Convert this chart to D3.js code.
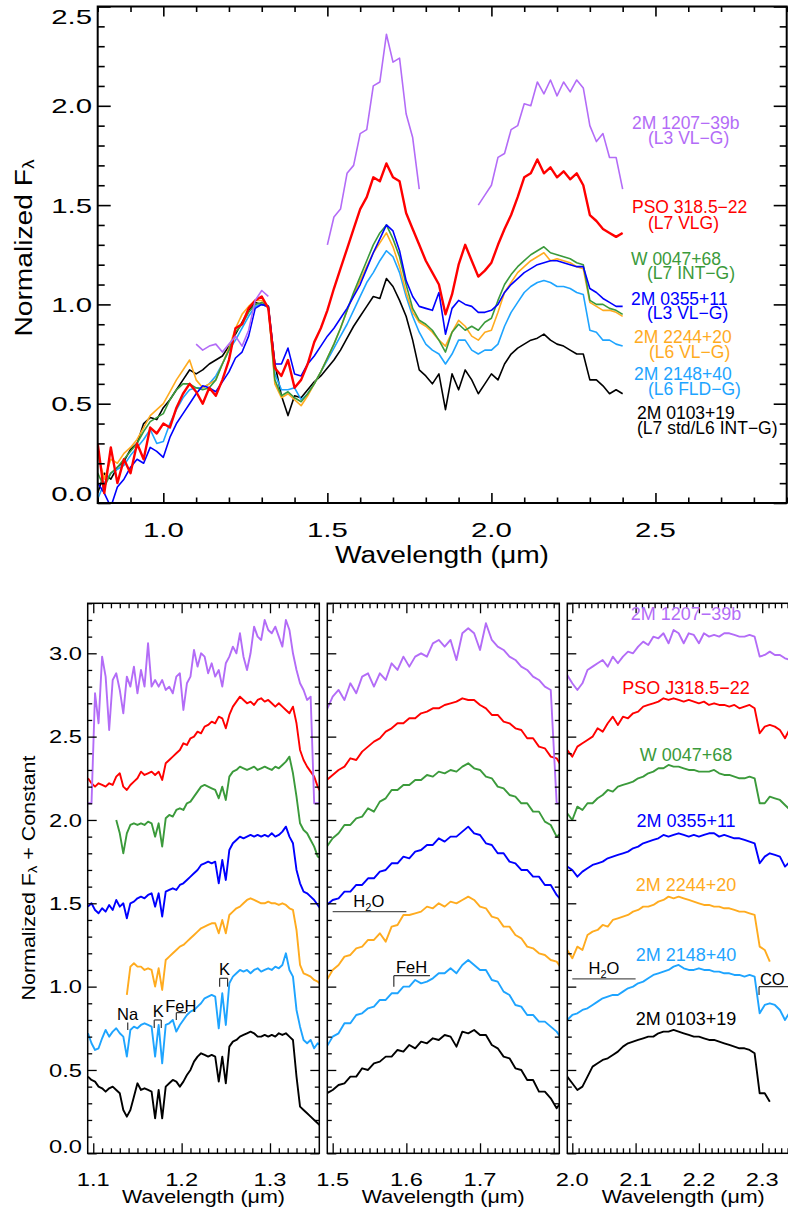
<!DOCTYPE html>
<html>
<head>
<meta charset="utf-8">
<script src="https://cdn.jsdelivr.net/npm/d3@7"></script>
<style>
  body { margin: 0; background: #fff; }
  svg text { font-family: "Liberation Sans", Arial, Helvetica, sans-serif; }
</style>
</head>
<body>
<svg id="fig" width="788" height="1212"></svg>
<script>
// ---------- data ----------
// top panel: full spectra, grid 0.80 .. 2.40 um, step 0.02
const topStart = 0.80, topStep = 0.02;
const topBlack = [
  0.05,0.15,0.12,0.18,0.21, 0.27,0.30,0.40,0.43,0.42,
  0.48,0.52,0.57,0.62,0.67, 0.65,0.67,0.70,0.72,0.74,
  0.79,0.85,0.91,0.97,1.01, 1.00,0.99,0.70,0.54,0.44,
  0.54,0.53,0.57,0.61,0.64, 0.68,0.72,0.77,0.83,0.89,
  0.94,0.99,1.04,1.03,1.13, 1.09,1.02,0.94,0.82,0.67,
  0.64,0.60,0.65,0.47,0.65, 0.57,0.67,0.62,0.55,0.60,
  0.65,0.62,0.70,0.75,0.78, 0.80,0.82,0.83,0.85,0.82,
  0.80,0.79,0.77,0.75,0.75, 0.62,0.62,0.59,0.55,0.57,
  0.55];
const topLblue = [
  0.02,0.10,0.15,0.17,0.19, 0.24,0.28,0.32,0.37,0.30,
  0.31,0.40,0.47,0.53,0.57, 0.58,0.58,0.60,0.64,0.70,
  0.77,0.82,0.88,0.94,0.99, 1.00,0.99,0.65,0.57,0.57,
  0.58,0.52,0.55,0.60,0.66, 0.72,0.78,0.84,0.90,0.97,
  1.04,1.11,1.16,1.22,1.27, 1.24,1.16,1.04,0.94,0.86,
  0.80,0.77,0.75,0.70,0.75, 0.82,0.82,0.77,0.75,0.77,
  0.77,0.80,0.89,0.96,1.01, 1.06,1.09,1.11,1.12,1.11,
  1.09,1.09,1.08,1.06,1.05, 0.87,0.86,0.82,0.82,0.80,
  0.79];
const topOrange = [
  0.25,0.12,0.22,0.20,0.25, 0.28,0.32,0.38,0.44,0.47,
  0.50,0.56,0.62,0.67,0.72, 0.62,0.58,0.60,0.62,0.70,
  0.78,0.88,0.95,0.99,1.02, 1.02,0.99,0.60,0.53,0.55,
  0.52,0.49,0.54,0.60,0.66, 0.73,0.80,0.88,0.97,1.05,
  1.12,1.19,1.26,1.31,1.36, 1.29,1.19,1.06,0.96,0.91,
  0.89,0.86,0.82,0.79,0.86, 0.92,0.89,0.84,0.82,0.86,
  0.87,0.96,1.06,1.11,1.16, 1.19,1.22,1.24,1.26,1.22,
  1.23,1.22,1.21,1.19,1.18, 1.01,0.99,0.97,0.97,0.96,
  0.94];
const topGreen = [
  0.15,0.08,0.15,0.18,0.22, 0.26,0.30,0.36,0.41,0.43,
  0.45,0.52,0.57,0.60,0.60, 0.58,0.57,0.58,0.62,0.70,
  0.77,0.86,0.90,0.96,1.00, 1.01,0.99,0.62,0.54,0.56,
  0.53,0.51,0.55,0.60,0.66, 0.73,0.80,0.88,0.97,1.06,
  1.14,1.22,1.30,1.36,1.40, 1.33,1.24,1.10,0.98,0.92,
  0.90,0.87,0.82,0.76,0.86, 0.90,0.87,0.89,0.87,0.91,
  0.93,1.02,1.10,1.15,1.19, 1.22,1.25,1.27,1.29,1.26,
  1.25,1.24,1.23,1.21,1.20, 1.02,1.00,1.00,0.98,0.97,
  0.95];
const topBlue = [
  0.10,0.05,-0.02,0.08,0.12, 0.18,0.22,0.20,0.28,0.26,
  0.23,0.33,0.40,0.45,0.50, 0.55,0.59,0.58,0.56,0.61,
  0.66,0.73,0.76,0.84,0.98, 1.00,0.99,0.70,0.70,0.78,
  0.65,0.64,0.70,0.74,0.79, 0.84,0.88,0.93,0.98,1.04,
  1.10,1.18,1.26,1.33,1.40, 1.37,1.27,1.12,1.04,0.99,
  0.98,0.97,1.06,0.85,0.98, 1.02,1.00,0.99,0.96,0.96,
  0.97,1.00,1.06,1.10,1.13, 1.16,1.18,1.20,1.21,1.22,
  1.22,1.21,1.20,1.19,1.19, 1.08,1.06,1.03,1.01,0.99,
  0.99];
const topRed = [
  0.30,0.05,0.28,0.10,0.22, 0.15,0.30,0.22,0.38,0.35,
  0.40,0.38,0.48,0.55,0.60, 0.56,0.50,0.58,0.54,0.62,
  0.72,0.88,0.90,0.98,1.02, 1.04,0.98,0.68,0.64,0.72,
  0.58,0.62,0.70,0.81,0.88, 0.97,1.08,1.18,1.28,1.38,
  1.48,1.54,1.64,1.62,1.71, 1.64,1.62,1.46,1.38,1.30,
  1.22,1.16,1.10,0.95,1.05, 1.20,1.30,1.22,1.14,1.17,
  1.21,1.30,1.38,1.45,1.54, 1.64,1.66,1.73,1.66,1.69,
  1.64,1.67,1.63,1.66,1.60, 1.45,1.42,1.38,1.36,1.34,
  1.36];
const topPurple = [
  null,null,null,null,null, null,null,null,null,null,
  null,null,null,null,null, 0.80,0.77,0.79,0.80,0.76,
  0.80,0.84,0.79,0.87,1.02, 1.07,1.04,null,null,null,
  null,null,null,null,null, 1.30,1.44,1.48,1.66,1.70,
  1.86,1.88,2.10,2.12,2.36, 2.22,2.24,1.96,1.84,1.58,
  null,null,null,null,null, null,null,null,1.50,1.55,
  1.60,1.74,1.76,1.88,1.90, 2.01,2.00,2.12,2.06,2.13,
  2.05,2.12,2.07,2.13,2.09, 1.90,1.82,1.86,1.74,1.74,
  1.58];

// bottom panels: normalized + constant
// J band grid 1.094 .. 1.358, step 0.004
const jStart = 1.094, jStep = 0.004;
const jPurple = [
  2.10,2.10,2.76,2.58,2.98,2.86,2.54,2.84,2.88,2.78,
  2.64,2.86,2.80,2.92,2.76,2.90,2.80,3.06,2.80,2.84,
  2.80,2.84,2.78,2.80,2.76,2.86,2.88,2.66,2.82,2.86,
  3.02,2.92,3.00,2.98,2.88,2.94,2.86,2.90,2.80,2.94,
  2.98,3.04,3.00,3.12,2.98,2.90,3.00,3.16,3.10,3.08,
  3.20,3.14,3.12,3.16,3.10,3.04,3.20,3.14,3.00,2.90,
  2.82,2.78,2.72,2.74,2.10,2.10,2.10];
const jRed = [
  2.25,2.22,2.20,2.22,2.21,2.20,2.22,2.21,2.26,2.28,
  2.20,2.18,2.21,2.23,2.25,2.29,2.27,2.28,2.29,2.27,
  2.29,2.24,2.34,2.36,2.38,2.40,2.42,2.46,2.45,2.49,
  2.50,2.53,2.52,2.56,2.57,2.59,2.58,2.62,2.61,2.55,
  2.63,2.68,2.71,2.74,2.72,2.70,2.71,2.69,2.72,2.73,
  2.71,2.72,2.70,2.68,2.70,2.68,2.66,2.64,2.68,2.58,
  2.42,2.36,2.32,2.29,2.26,2.20,2.16];
const jGreen = [
  null,null,null,null,null,null,null,null,2.00,1.92,
  1.80,1.92,1.97,1.98,1.97,1.98,1.97,1.99,1.98,1.90,
  1.98,1.84,2.01,2.03,2.02,2.06,2.07,2.06,2.10,2.11,
  2.14,2.17,2.20,2.21,2.20,2.19,2.18,2.13,2.20,2.12,
  2.26,2.29,2.30,2.32,2.31,2.30,2.31,2.32,2.30,2.31,
  2.32,2.31,2.30,2.32,2.31,2.33,2.35,2.38,2.28,2.14,
  1.98,1.94,1.92,1.88,1.84,1.78,1.77];
const jBlue = [
  1.48,1.50,1.46,1.44,1.47,1.45,1.49,1.46,1.52,1.48,
  1.50,1.41,1.50,1.51,1.53,1.54,1.53,1.55,1.56,1.48,
  1.56,1.42,1.57,1.58,1.59,1.58,1.61,1.62,1.64,1.66,
  1.68,1.70,1.73,1.74,1.75,1.74,1.75,1.62,1.76,1.64,
  1.82,1.86,1.88,1.90,1.89,1.90,1.91,1.90,1.91,1.90,
  1.91,1.90,1.92,1.90,1.91,1.93,1.96,1.90,1.86,1.70,
  1.62,1.57,1.56,1.54,1.52,1.49,1.46];
const jOrange = [
  null,null,null,null,null,null,null,null,null,null,
  null,0.95,1.12,1.14,1.12,1.12,1.10,1.11,1.10,1.00,
  1.11,0.98,1.16,1.18,1.20,1.22,1.24,1.25,1.27,1.29,
  1.31,1.33,1.35,1.36,1.37,1.38,1.38,1.32,1.40,1.32,
  1.43,1.45,1.47,1.48,1.50,1.52,1.53,1.52,1.51,1.50,
  1.50,1.51,1.50,1.50,1.49,1.50,1.49,1.47,1.46,1.34,
  1.13,1.08,1.07,1.06,1.04,1.03,1.01];
const jLblue = [
  0.72,0.66,0.62,0.63,0.69,0.74,0.70,0.73,0.75,0.72,
  0.70,0.58,0.74,0.76,0.75,0.77,0.78,0.77,0.76,0.58,
  0.77,0.54,0.77,0.78,0.80,0.73,0.77,0.80,0.83,0.85,
  0.86,0.88,0.90,0.93,0.94,0.95,0.94,0.75,0.96,0.77,
  1.02,1.06,1.08,1.10,1.09,1.10,1.08,1.10,1.11,1.09,
  1.10,1.11,1.10,1.12,1.11,1.13,1.20,1.10,1.06,0.86,
  0.76,0.68,0.66,0.68,0.63,0.66,0.65];
const jBlack = [
  0.46,0.44,0.43,0.40,0.39,0.37,0.39,0.40,0.38,0.36,
  0.26,0.22,0.26,0.34,0.42,0.38,0.39,0.38,0.37,0.21,
  0.38,0.21,0.40,0.42,0.44,0.43,0.40,0.43,0.47,0.50,
  0.55,0.58,0.60,0.59,0.58,0.59,0.58,0.43,0.58,0.42,
  0.64,0.67,0.68,0.70,0.71,0.72,0.73,0.72,0.70,0.70,
  0.71,0.70,0.71,0.70,0.72,0.71,0.72,0.70,0.68,0.46,
  0.28,0.26,0.24,0.22,0.20,0.18,0.16];

// H band grid 1.492 .. 1.812, step 0.008
const hStart = 1.492, hStep = 0.008;
const hPurple = [
  2.66,2.74,2.78,2.72,2.82,2.76,2.86,2.88,2.80,2.88,
  2.84,2.94,2.90,2.98,2.92,2.98,3.00,2.98,3.06,3.08,
  3.04,3.08,2.96,3.12,3.15,3.12,3.02,3.18,3.08,3.04,
  3.02,2.98,2.96,2.92,2.90,2.86,2.84,2.80,2.78,2.10,
  2.10];
const hRed = [
  2.24,2.27,2.30,2.32,2.37,2.36,2.41,2.44,2.47,2.49,
  2.53,2.55,2.58,2.58,2.61,2.61,2.64,2.65,2.67,2.67,
  2.69,2.70,2.71,2.73,2.72,2.72,2.69,2.67,2.63,2.63,
  2.59,2.58,2.55,2.54,2.49,2.49,2.44,2.43,2.38,2.37,
  2.31];
const hGreen = [
  1.84,1.89,1.92,1.97,1.97,2.01,2.02,2.07,2.05,2.11,
  2.13,2.18,2.18,2.21,2.21,2.24,2.24,2.27,2.26,2.29,
  2.28,2.30,2.29,2.32,2.34,2.31,2.30,2.26,2.25,2.20,
  2.19,2.15,2.14,2.10,2.10,2.05,2.05,1.99,1.97,1.90,
  1.93];
const hBlue = [
  1.49,1.52,1.53,1.57,1.57,1.61,1.61,1.65,1.65,1.69,
  1.70,1.74,1.74,1.78,1.77,1.81,1.82,1.85,1.85,1.89,
  1.87,1.90,1.90,1.93,1.96,1.92,1.91,1.86,1.85,1.80,
  1.80,1.75,1.74,1.70,1.70,1.66,1.66,1.61,1.61,1.55,
  1.51];
const hOrange = [
  1.04,1.10,1.13,1.18,1.19,1.23,1.24,1.28,1.28,1.32,
  1.27,1.36,1.37,1.43,1.43,1.44,1.45,1.48,1.47,1.50,
  1.48,1.51,1.50,1.52,1.54,1.52,1.48,1.47,1.42,1.41,
  1.36,1.36,1.31,1.29,1.24,1.23,1.20,1.19,1.16,1.15,
  1.10];
const hLblue = [
  0.64,0.70,0.72,0.78,0.78,0.83,0.84,0.87,0.88,0.92,
  0.92,0.96,0.96,1.00,1.00,1.04,1.02,1.03,1.05,1.08,
  1.08,1.11,1.08,1.13,1.16,1.13,1.10,1.10,1.04,1.03,
  0.97,0.95,0.89,0.88,0.83,0.83,0.79,0.79,0.76,0.73,
  0.68];
const hBlack = [
  0.36,0.38,0.41,0.42,0.46,0.46,0.51,0.50,0.54,0.55,
  0.58,0.58,0.62,0.61,0.65,0.63,0.67,0.66,0.69,0.68,
  0.71,0.70,0.64,0.73,0.72,0.74,0.71,0.71,0.65,0.63,
  0.58,0.57,0.51,0.50,0.44,0.44,0.37,0.37,0.33,0.27,
  0.32];

// K band grid 1.992 .. 2.360, step 0.008
const kStart = 1.992, kStep = 0.008;
const kPurple = [
  2.87,2.82,2.78,2.82,2.90,2.92,2.94,2.96,2.92,2.98,
  2.94,2.98,3.01,3.00,3.04,3.07,3.05,3.10,3.09,3.12,
  3.06,3.14,3.12,3.06,3.12,3.11,3.06,3.12,3.10,3.11,
  3.10,3.12,3.12,3.11,3.10,3.10,3.11,3.10,2.98,2.99,
  3.01,2.99,2.99,2.97,2.96,2.95,2.94];
const kRed = [
  2.42,2.38,2.44,2.46,2.48,2.50,2.55,2.53,2.58,2.62,
  2.57,2.62,2.61,2.64,2.65,2.68,2.69,2.70,2.71,2.73,
  2.72,2.73,2.72,2.71,2.72,2.71,2.70,2.71,2.69,2.70,
  2.69,2.69,2.68,2.69,2.67,2.68,2.69,2.67,2.52,2.56,
  2.57,2.56,2.54,2.49,2.55,2.53,2.52];
const kGreen = [
  2.04,2.00,2.08,2.06,2.10,2.10,2.13,2.15,2.18,2.17,
  2.20,2.21,2.22,2.23,2.25,2.26,2.28,2.29,2.31,2.31,
  2.33,2.32,2.32,2.31,2.30,2.30,2.29,2.29,2.29,2.30,
  2.28,2.27,2.27,2.26,2.25,2.25,2.26,2.25,2.10,2.10,
  2.14,2.13,2.12,2.09,2.06,2.10,2.09];
const kBlue = [
  1.72,1.70,1.66,1.69,1.71,1.73,1.74,1.75,1.77,1.78,
  1.79,1.80,1.81,1.83,1.84,1.86,1.87,1.88,1.89,1.91,
  1.90,1.91,1.92,1.91,1.90,1.91,1.90,1.91,1.92,1.92,
  1.90,1.91,1.90,1.89,1.89,1.88,1.87,1.86,1.74,1.78,
  1.80,1.79,1.78,1.72,1.75,1.74,1.74];
const kOrange = [
  1.22,1.17,1.24,1.22,1.31,1.33,1.34,1.37,1.36,1.40,
  1.41,1.42,1.43,1.45,1.46,1.48,1.48,1.49,1.51,1.52,
  1.54,1.53,1.54,1.53,1.52,1.51,1.50,1.49,1.49,1.48,
  1.48,1.47,1.47,1.46,1.45,1.45,1.44,1.43,1.24,1.22,
  1.15,null,null,null,null,null,null];
const kLblue = [
  0.80,0.83,0.84,0.86,0.87,0.89,0.91,0.93,0.94,0.95,
  0.95,0.97,0.99,1.00,1.02,1.03,1.05,1.07,1.08,1.09,
  1.10,1.12,1.13,1.11,1.10,1.10,1.11,1.10,1.10,1.09,
  1.09,1.08,1.08,1.07,1.07,1.06,1.07,1.06,0.84,0.89,
  0.90,0.89,0.86,0.80,0.85,0.84,0.83];
const kBlack = [
  0.46,0.42,0.38,0.40,0.46,0.52,0.54,0.56,0.57,0.59,
  0.61,0.64,0.66,0.67,0.68,0.69,0.70,0.70,0.72,0.73,
  0.73,0.74,0.73,0.72,0.71,0.70,0.70,0.69,0.68,0.68,
  0.67,0.66,0.65,0.64,0.63,0.63,0.62,0.60,0.36,0.36,
  0.31,null,null,null,null,null,null];

const seriesKeys = ["black", "lblue", "orange", "green", "blue", "red", "purple"];
const seriesColor = {
  black: "#000000", lblue: "#1ea4ff", orange: "#ffab1f", green: "#3b9a3b",
  blue: "#0000ff", red: "#ff0000", purple: "#b36cf7"
};
const topSeries = { black: topBlack, lblue: topLblue, orange: topOrange, green: topGreen,
  blue: topBlue, red: topRed, purple: topPurple };
const jSeries = { black: jBlack, lblue: jLblue, orange: jOrange, green: jGreen, blue: jBlue, red: jRed, purple: jPurple };
const hSeries = { black: hBlack, lblue: hLblue, orange: hOrange, green: hGreen, blue: hBlue, red: hRed, purple: hPurple };
const kSeries = { black: kBlack, lblue: kLblue, orange: kOrange, green: kGreen, blue: kBlue, red: kRed, purple: kPurple };

const topNames = [
  ["purple", "2M 1207\u221239b", "(L3 VL\u2212G)"],
  ["red", "PSO 318.5\u221222", "(L7 VLG)"],
  ["green", "W 0047+68", "(L7 INT\u2212G)"],
  ["blue", "2M 0355+11", "(L3 VL\u2212G)"],
  ["orange", "2M 2244+20", "(L6 VL\u2212G)"],
  ["lblue", "2M 2148+40", "(L6 FLD\u2212G)"],
  ["black", "2M 0103+19", "(L7 std/L6 INT\u2212G)"]
];
const bottomNames = [
  ["purple", "2M 1207\u221239b"], ["red", "PSO J318.5\u221222"], ["green", "W 0047+68"],
  ["blue", "2M 0355+11"], ["orange", "2M 2244+20"], ["lblue", "2M 2148+40"], ["black", "2M 0103+19"]
];
const topTicksX = [1.0, 1.5, 2.0, 2.5];
const topTicksY = [0.0, 0.5, 1.0, 1.5, 2.0, 2.5];
const botTicksY = [0.0, 0.5, 1.0, 1.5, 2.0, 2.5, 3.0];

// ---------- layout ----------
const topLabelPos = [[[632,129],[648,144]], [[632,213],[648,229]], [[631,265],[647,279]],
  [[631,305],[647,319]], [[634,343],[649,358]], [[634,380],[648,395]], [[637,419],[637,434]]];
const botLabelY = [620, 694, 761, 827, 891, 961, 1025];

const svg = d3.select("#fig");

function spectrum(start, step, vals) {
  return vals.map((v, i) => [start + i * step, v]);
}

function addTicks(g, axis, vals, len, tx, ty, sw) {
  const a = g.append("g").attr("transform", `translate(${tx},${ty})`)
    .call(axis.tickValues(vals).tickSize(-len).tickSizeOuter(0).tickFormat(""));
  a.select(".domain").remove();
  a.selectAll(".tick line").attr("stroke", "#000").attr("stroke-width", sw);
}

function frame(g, x, y, t) {
  const [xl, xr] = x.range(), [yb, yt] = y.range();
  addTicks(g, d3.axisBottom(x), t.xMinor, t.xMin, 0, yb, t.sw);
  addTicks(g, d3.axisBottom(x), t.xMajor, t.xMaj, 0, yb, t.sw);
  addTicks(g, d3.axisTop(x), t.xMinor, t.xMin, 0, yt, t.sw);
  addTicks(g, d3.axisTop(x), t.xMajor, t.xMaj, 0, yt, t.sw);
  addTicks(g, d3.axisLeft(y), t.yMinor, t.yMin, xl, 0, t.sw);
  addTicks(g, d3.axisLeft(y), t.yMajor, t.yMaj, xl, 0, t.sw);
  addTicks(g, d3.axisRight(y), t.yMinor, t.yMin, xr, 0, t.sw);
  addTicks(g, d3.axisRight(y), t.yMajor, t.yMaj, xr, 0, t.sw);
  g.append("rect").attr("x", xl).attr("y", yt).attr("width", xr - xl).attr("height", yb - yt)
    .attr("fill", "none").attr("stroke", "#000").attr("stroke-width", t.fw);
}

function text(g, str, x, y, o) {
  return g.append("text")
    .attr("transform", `translate(${x},${y})` + (o.rot ? ` rotate(${o.rot})` : "") + ` scale(${o.sx || 1},1)`)
    .attr("text-anchor", o.anchor || "start")
    .attr("font-size", o.size)
    .attr("fill", o.color || "#000")
    .text(str);
}

function fluxTitle(g, x, y, size, sx, suffix) {
  const t = g.append("text")
    .attr("transform", `translate(${x},${y}) rotate(-90) scale(${sx},1)`)
    .attr("text-anchor", "middle").attr("font-size", size);
  t.append("tspan").text("Normalized F");
  t.append("tspan").attr("font-size", size * 0.68).attr("dy", size * 0.1).text("\u03bb");
  if (suffix) t.append("tspan").attr("dy", -size * 0.1).text(suffix);
}

const tenths = (a, b) => d3.range(a, b + 1).map(d => d / 10);
const hundredths = (a, b) => d3.range(a, b + 1).map(d => d / 100);

// ---------- top panel ----------
const xTop = d3.scaleLinear().domain([0.8, 2.9]).range([97.7, 786.7]);
const yTop = d3.scaleLinear().domain([0, 2.5]).range([503, 6.5]);
const gTop = svg.append("g");

svg.append("clipPath").attr("id", "clipTop").append("rect")
  .attr("x", 97.7).attr("y", 6.5).attr("width", 689).attr("height", 496.5);

const topLine = d3.line().defined(d => d[1] !== null).x(d => xTop(d[0])).y(d => yTop(d[1]));
const gTopLines = gTop.append("g").attr("clip-path", "url(#clipTop)");
seriesKeys.forEach(k => {
  gTopLines.append("path")
    .datum(spectrum(topStart, topStep, topSeries[k]))
    .attr("d", topLine)
    .attr("fill", "none")
    .attr("stroke", seriesColor[k])
    .attr("stroke-width", k === "red" ? 2.4 : 1.6)
    .attr("stroke-linejoin", "round");
});

frame(gTop, xTop, yTop, {
  xMajor: topTicksX, xMinor: tenths(8, 29).filter(v => !topTicksX.includes(v)),
  yMajor: topTicksY, yMinor: tenths(0, 25).filter(v => !topTicksY.includes(v)),
  xMaj: 10, xMin: 5.5, yMaj: 13, yMin: 7, sw: 1.6, fw: 2
});

topTicksX.forEach(v => text(gTop, v.toFixed(1), xTop(v), 537, { size: 21, sx: 1.4, anchor: "middle" }));
topTicksY.forEach(v => {
  const shift = v === 0 ? -10 : (v === 2.5 ? 10 : 0);
  text(gTop, v.toFixed(1), 92, yTop(v) + 7.5 + shift, { size: 21, sx: 1.4, anchor: "end" });
});
text(gTop, "Wavelength (\u03bcm)", 442, 563, { size: 24.5, sx: 1.15, anchor: "middle" });
fluxTitle(gTop, 32, 248, 24.5, 1.15, null);

// two-line object labels, one text element each
topNames.forEach((n, i) => {
  const t = gTop.append("text").attr("font-size", 17.5).attr("fill", seriesColor[n[0]]);
  t.append("tspan").attr("x", topLabelPos[i][0][0]).attr("y", topLabelPos[i][0][1]).text(n[1]);
  t.append("tspan").attr("x", topLabelPos[i][1][0]).attr("y", topLabelPos[i][1][1]).text(n[2]);
});

// ---------- bottom panels ----------
const yBot = d3.scaleLinear().domain([0, 3.3]).range([1153.3, 603.3]);
const panels = [
  { id: "J", domain: [1.0937, 1.3558], range: [87.7, 319.3], major: [1.1, 1.2, 1.3],
    minor: hundredths(110, 135), start: jStart, step: jStep, data: jSeries },
  { id: "H", domain: [1.4927, 1.8076], range: [327.3, 559.3], major: [1.5, 1.6, 1.7],
    minor: hundredths(150, 180), start: hStart, step: hStep, data: hSeries },
  { id: "K", domain: [1.9921, 2.3586], range: [567.3, 799.3], major: [2.0, 2.1, 2.2, 2.3],
    minor: hundredths(200, 235), start: kStart, step: kStep, data: kSeries }
];

panels.forEach((p, pi) => {
  const x = d3.scaleLinear().domain(p.domain).range(p.range);
  p.x = x;
  const g = svg.append("g");
  svg.append("clipPath").attr("id", "clip" + p.id).append("rect")
    .attr("x", p.range[0]).attr("y", 603.3).attr("width", p.range[1] - p.range[0]).attr("height", 550);
  const ln = d3.line().defined(d => d[1] !== null).x(d => x(d[0])).y(d => yBot(d[1]));
  const gl = g.append("g").attr("clip-path", `url(#clip${p.id})`);
  seriesKeys.forEach(k => {
    gl.append("path")
      .datum(spectrum(p.start, p.step, p.data[k]))
      .attr("d", ln)
      .attr("fill", "none")
      .attr("stroke", seriesColor[k])
      .attr("stroke-width", 1.9)
      .attr("stroke-linejoin", "round");
  });
  const minor = p.minor.filter(v => !p.major.some(m => Math.abs(m - v) < 1e-9));
  frame(g, x, yBot, {
    xMajor: p.major, xMinor: minor,
    yMajor: botTicksY, yMinor: tenths(0, 33).filter(v => !botTicksY.includes(v)),
    xMaj: 10, xMin: 5, yMaj: 9, yMin: 4.5, sw: 1.3, fw: 1.5
  });
  p.major.forEach(v => text(g, v.toFixed(1), x(v), 1186, { size: 18.5, sx: 1.28, anchor: "middle" }));
  text(g, "Wavelength (\u03bcm)", (p.range[0] + p.range[1]) / 2, 1203, { size: 18.5, sx: 1.16, anchor: "middle" });
  if (pi === 0) {
    botTicksY.forEach(v => {
      const shift = v === 0 ? -7 : 0;
      text(g, v.toFixed(1), 82, yBot(v) + 6.6 + shift, { size: 18.5, sx: 1.28, anchor: "end" });
    });
  }
});

fluxTitle(svg, 35, 878, 18.5, 1.16, " + Constant");

bottomNames.forEach((n, i) => {
  text(svg, n[1], 686, botLabelY[i], { size: 18, anchor: "middle", color: seriesColor[n[0]] });
});

// ---------- line identifications ----------
const gA = svg.append("g");
const xJ = panels[0].x, xH = panels[1].x, xK = panels[2].x;
const note = { size: 16.5, anchor: "middle" };
const seg = (x1, y1, x2, y2, c) => gA.append("line").attr("x1", x1).attr("y1", y1).attr("x2", x2).attr("y2", y2)
  .attr("stroke", c || "#333").attr("stroke-width", 1.2);
const bracket = (x, lo, hi, top, bot) => {
  seg(x(lo), yBot(bot), x(lo), yBot(top));
  seg(x(lo), yBot(top), x(hi), yBot(top));
  seg(x(hi), yBot(top), x(hi), yBot(bot));
};

// J band
text(gA, "Na", xJ(1.1388), yBot(0.80), note);
seg(xJ(1.1390), yBot(0.785), xJ(1.1390), yBot(0.74));
text(gA, "K", xJ(1.1736), yBot(0.82), note);
bracket(xJ, 1.169, 1.177, 0.80, 0.752);
text(gA, "FeH", xJ(1.199), yBot(0.85), note);
seg(xJ(1.194), yBot(0.80), xJ(1.194), yBot(0.844));
seg(xJ(1.194), yBot(0.844), xJ(1.205), yBot(0.844));
text(gA, "K", xJ(1.2484), yBot(1.07), note);
bracket(xJ, 1.243, 1.252, 1.05, 1.0);

// H band
const h2o = (x, y) => {
  const t = gA.append("text").attr("x", x).attr("y", y).attr("font-size", 16.5).attr("text-anchor", "middle");
  t.append("tspan").text("H");
  t.append("tspan").attr("font-size", 11).attr("dy", 4).text("2");
  t.append("tspan").attr("dy", -4).text("O");
};
h2o(xH(1.549), yBot(1.48));
seg(xH(1.50), yBot(1.45), xH(1.60), yBot(1.45), "#555");
text(gA, "FeH", xH(1.607), yBot(1.08), note);
seg(xH(1.583), yBot(1.0), xH(1.583), yBot(1.066));
seg(xH(1.583), yBot(1.066), xH(1.632), yBot(1.066));

// K band
h2o(xK(2.05), yBot(1.076));
seg(xK(2.0), yBot(1.046), xK(2.1), yBot(1.046), "#555");
text(gA, "CO", xK(2.316), yBot(1.01), note);
seg(xK(2.295), yBot(0.95), xK(2.295), yBot(1.0));
seg(xK(2.295), yBot(1.0), xK(2.40), yBot(1.0));
</script>
</body>
</html>
